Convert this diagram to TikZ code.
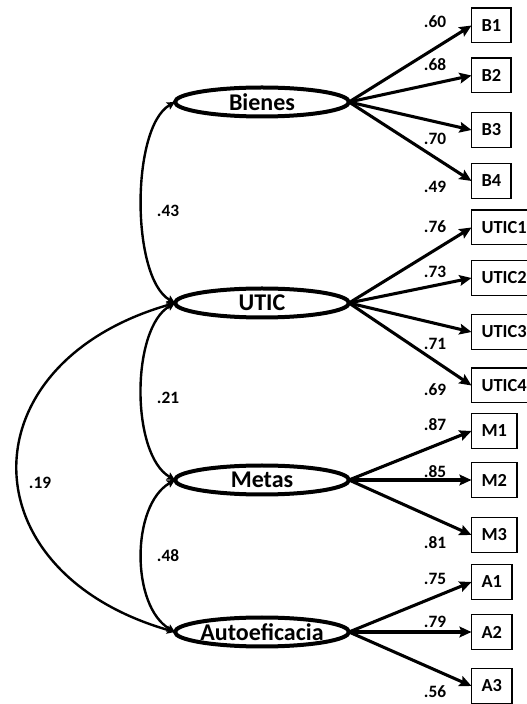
\documentclass[tikz,border=0pt]{standalone}
\usepackage{fontspec}
\setmainfont{Carlito}
\usetikzlibrary{arrows.meta,shapes.geometric}

\begin{document}
\begin{tikzpicture}[x=0.75pt, y=0.75pt]
    % Styles
    \tikzstyle{latent} = [ellipse, draw, line width=3pt, minimum width=130.5pt, minimum height=21.75pt, inner sep=0pt, outer sep=0pt]
    \tikzstyle{lname} = [font=\bfseries\fontsize{18}{18}\selectfont, inner sep=0pt]
    \tikzstyle{item} = [rectangle, draw, line width=1pt, minimum height=26pt, inner xsep=7.5pt, outer sep=0pt, anchor=west, font=\bfseries\fontsize{13.8}{14}\selectfont]
    \tikzstyle{load} = [-{Stealth[length=9pt, width=8pt, inset=1.5pt]}, line width=2.3pt]
    \tikzstyle{cov} = [{Stealth[length=6pt, width=6pt, inset=1pt]}-{Stealth[length=6pt, width=6pt, inset=1pt]}, line width=1.8pt]
    \tikzstyle{coef} = [font=\bfseries\fontsize{13}{13}\selectfont, inner sep=1pt]

    \useasboundingbox (0,0) rectangle (527,704);

    % Latent variables
    \node[latent, label={[lname]center:Bienes}] (bienes) at (262, 602) {};
    \node[latent, label={[lname]center:UTIC}] (utic) at (262, 401) {};
    \node[latent, label={[lname]center:Metas}] (metas) at (262, 224) {};
    \node[latent, label={[lname]center:Autoeficacia}] (auto) at (262, 72) {};

    % Indicators
    \node[item] (b1) at (471.5, 678.5) {B1};
    \node[item] (b2) at (471.5, 628.5) {B2};
    \node[item] (b3) at (471.5, 574) {B3};
    \node[item] (b4) at (471.5, 523) {B4};
    \node[item] (u1) at (471.5, 476.5) {UTIC1};
    \node[item] (u2) at (471.5, 426) {UTIC2};
    \node[item] (u3) at (471.5, 372) {UTIC3};
    \node[item] (u4) at (471.5, 318.5) {UTIC4};
    \node[item] (m1) at (471.5, 273) {M1};
    \node[item] (m2) at (471.5, 224) {M2};
    \node[item] (m3) at (471.5, 169) {M3};
    \node[item] (a1) at (471.5, 122) {A1};
    \node[item] (a2) at (471.5, 72) {A2};
    \node[item] (a3) at (471.5, 18) {A3};

    % Loadings
    \draw[load] (bienes.east) -- (b1.west);
    \draw[load] (bienes.east) -- (b2.west);
    \draw[load] (bienes.east) -- (b3.west);
    \draw[load] (bienes.east) -- (b4.west);
    \draw[load] (utic.east) -- (u1.west);
    \draw[load] (utic.east) -- (u2.west);
    \draw[load] (utic.east) -- (u3.west);
    \draw[load] (utic.east) -- (u4.west);
    \draw[load] (metas.east) -- (m1.west);
    \draw[load] (metas.east) -- (m2.west);
    \draw[load] (metas.east) -- (m3.west);
    \draw[load] (auto.east) -- (a1.west);
    \draw[load] (auto.east) -- (a2.west);
    \draw[load] (auto.east) -- (a3.west);

    \node[coef] (c60) at (435, 682) {.60};
    \node[coef] (c68) at (435, 639) {.68};
    \node[coef] (c70) at (435, 565) {.70};
    \node[coef] (c49) at (435, 517) {.49};
    \node[coef] (c76) at (435, 477) {.76};
    \node[coef] (c73) at (435, 432) {.73};
    \node[coef] (c71) at (435, 360) {.71};
    \node[coef] (c69) at (435, 314) {.69};
    \node[coef] (c87) at (435, 279) {.87};
    \node[coef] (c85) at (435, 232) {.85};
    \node[coef] (c81) at (435, 161) {.81};
    \node[coef] (c75) at (435, 125) {.75};
    \node[coef] (c79) at (435, 82) {.79};
    \node[coef] (c56) at (435, 12) {.56};

    % Correlations
    \draw[cov] (bienes.west) to[out=210, in=150, looseness=0.65] (utic.west);
    \draw[cov] (utic.west) to[out=210, in=150, looseness=0.74] (metas.west);
    \draw[cov] (metas.west) to[out=210, in=150, looseness=0.86] (auto.west);
    \draw[cov] (utic.west) to[out=196, in=164, looseness=1.7] (auto.west);

    \node[coef] (r43) at (168, 493) {.43};
    \node[coef] (r21) at (168, 306) {.21};
    \node[coef] (r48) at (168, 148) {.48};
    \node[coef] (r19) at (40, 221) {.19};
\end{tikzpicture}
\end{document}
